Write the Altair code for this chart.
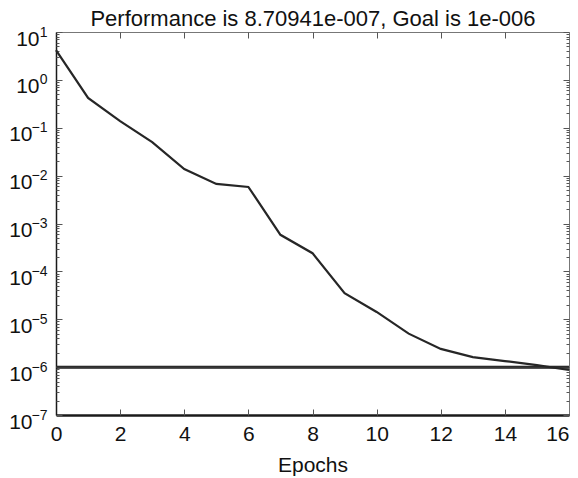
import altair as alt
import pandas as pd

# ---- data ----
epochs = list(range(17))
performance = [4.2, 0.42, 0.138, 0.050, 0.0137, 0.0067, 0.0058, 0.00058,
               0.00024, 3.5e-5, 1.42e-5, 5.0e-6, 2.4e-6, 1.62e-6, 1.34e-6,
               1.1e-6, 8.70941e-7]
goal = [1e-6]
x_ticks = [0, 2, 4, 6, 8, 10, 12, 14]
x_last_tick = [16]
x_inner_ticks = [2, 4, 6, 8, 10, 12, 14]
y_pos_decades = [1.0, 10.0]
y_neg_decades = [1e-7, 1e-6, 1e-5, 1e-4, 1e-3, 1e-2, 1e-1]
y_decades = y_neg_decades + y_pos_decades
y_minor = [m * 10.0 ** k for k in range(-7, 1) for m in range(2, 10)]
title_text = "Performance is 8.70941e-007, Goal is 1e-006"
x_title = "Epochs"

W, H = 513, 383
FONT = "Liberation Sans"
TXT = "#111111"
FS = 21

df = pd.DataFrame({"epoch": epochs, "perf": performance})
goal_df = pd.DataFrame({"goal": goal})

xs = alt.Scale(domain=[0, 16], nice=False, zero=False)
ys = alt.Scale(type="log", domain=[1e-7, 10], nice=False)


def tick_axis(orient, values, size, offset):
    return alt.Axis(orient=orient, values=values, labels=False, domain=False,
                    ticks=True, tickSize=size, tickColor="#555555", tickWidth=1,
                    grid=False, title=None, offset=offset)


def label_axis(values, expr, fs, pad, off, domain=False):
    kw = dict(orient="left", values=values, labelExpr=expr, ticks=False, tickSize=0,
              labelFont=FONT, labelFontSize=fs, labelColor=TXT, labelPadding=pad,
              labelAlign="right", labelBaseline="alphabetic", labelOffset=off,
              labelOverlap=False, labelFlush=False, labelBound=False,
              grid=False, title=None, domain=domain)
    if domain:
        kw.update(domainColor="#1a1a1a", domainWidth=1.5)
    return alt.Axis(**kw)


base = alt.Chart(df)

main = base.mark_line(color="#262626", strokeWidth=2.2).encode(
    x=alt.X("epoch:Q", scale=xs, axis=alt.Axis(
        orient="bottom", values=x_ticks, ticks=False, tickSize=0,
        labelFont=FONT, labelFontSize=FS, labelColor=TXT, labelPadding=8,
        labelFlush=False, labelOverlap=False, labelBound=False,
        title=x_title, titleFont=FONT, titleFontSize=FS, titleFontWeight="normal",
        titleColor=TXT, titlePadding=10, domainColor="#1a1a1a", domainWidth=2.5,
        grid=False)),
    y=alt.Y("perf:Q", scale=ys, axis=label_axis(y_neg_decades, "'10'", FS, 24, 13, domain=True)),
)

goal_outer = alt.Chart(goal_df).mark_rule(color="#1a1a1a", strokeWidth=3).encode(
    y=alt.Y("goal:Q", scale=ys, axis=None))
goal_inner = alt.Chart(goal_df).mark_rule(color="#6a6a6a", strokeWidth=0.6).encode(
    y=alt.Y("goal:Q", scale=ys, axis=None))

sup_expr = "(round(log(datum.value)/LN10) < 0 ? '\u2212' + (-round(log(datum.value)/LN10)) : '' + round(log(datum.value)/LN10))"

l2 = base.mark_point(opacity=0).encode(
    x=alt.X("epoch:Q", scale=xs, axis=tick_axis("top", x_inner_ticks, 6, -H)),
    y=alt.Y("perf:Q", scale=ys, axis=label_axis(y_pos_decades, "'10'", FS, 17, 13)),
)
l3 = base.mark_point(opacity=0).encode(
    x=alt.X("epoch:Q", scale=xs, axis=tick_axis("bottom", x_inner_ticks, 6, -H)),
    y=alt.Y("perf:Q", scale=ys, axis=label_axis(y_decades, sup_expr, 14, 9, 4)),
)
l4 = base.mark_point(opacity=0).encode(
    x=alt.X("epoch:Q", scale=xs, axis=alt.Axis(
        orient="bottom", values=x_last_tick, ticks=False, tickSize=0, domain=False,
        labelFont=FONT, labelFontSize=FS, labelColor=TXT, labelPadding=8,
        labelAlign="right", labelFlush=False, labelOverlap=False, labelBound=False,
        title=None, grid=False)),
    y=alt.Y("perf:Q", scale=ys, axis=tick_axis("right", y_decades, 6, -W)),
)
l5 = base.mark_point(opacity=0).encode(
    x=alt.X("epoch:Q", scale=xs, axis=None),
    y=alt.Y("perf:Q", scale=ys, axis=tick_axis("left", y_decades, 6, -W)),
)
l6 = base.mark_point(opacity=0).encode(
    x=alt.X("epoch:Q", scale=xs, axis=None),
    y=alt.Y("perf:Q", scale=ys, axis=tick_axis("right", y_minor, 3, -W)),
)
l7 = base.mark_point(opacity=0).encode(
    x=alt.X("epoch:Q", scale=xs, axis=None),
    y=alt.Y("perf:Q", scale=ys, axis=tick_axis("left", y_minor, 3, -W)),
)
# chart title carried by a top axis title (fixed placement above the frame)
l8 = base.mark_point(opacity=0).encode(
    x=alt.X("epoch:Q", scale=xs, axis=alt.Axis(
        orient="top", values=[0], labels=False, ticks=False, tickSize=0, domain=False,
        grid=False, title=title_text, titleFont=FONT, titleFontSize=22,
        titleFontWeight="normal", titleColor=TXT, titlePadding=2)),
    y=alt.Y("perf:Q", scale=ys, axis=None),
)

chart = alt.layer(goal_outer, goal_inner, main, l2, l3, l4, l5, l6, l7, l8).resolve_axis(
    x="independent", y="independent"
).properties(
    width=W, height=H,
    autosize=alt.AutoSizeParams(type="none"),
    padding={"left": 48, "top": 24, "right": 1, "bottom": 62},
    background="white",
).configure_view(stroke="#777777", strokeWidth=1)

chart.save("out.html", embed_options={"renderer": "svg", "actions": False})
